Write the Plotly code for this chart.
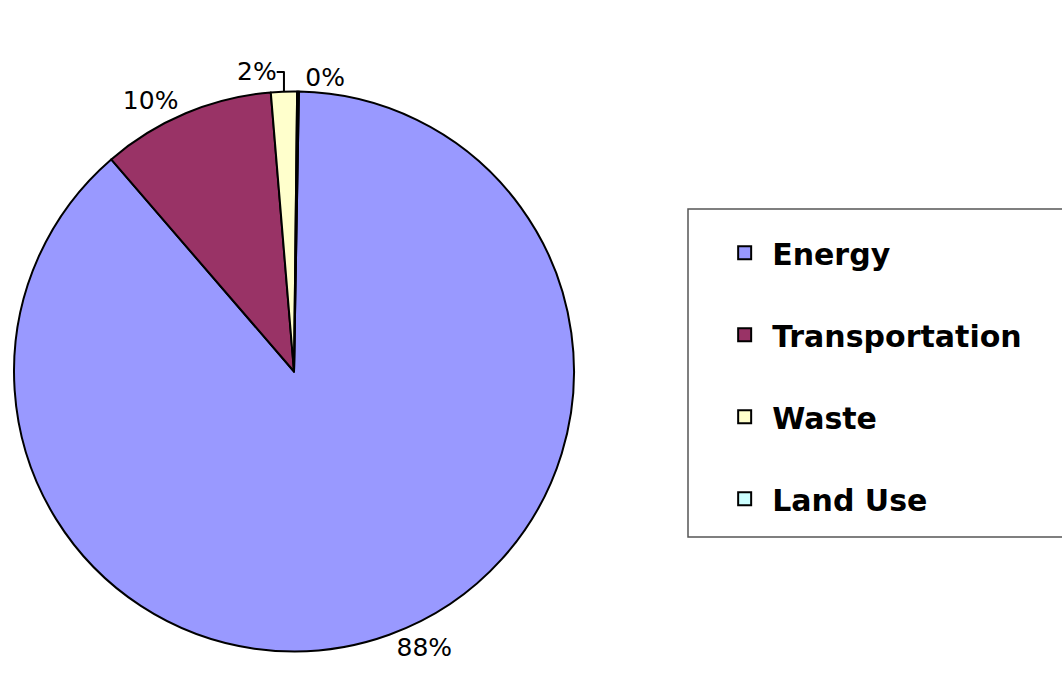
import plotly.graph_objects as go

categories = ["Energy", "Transportation", "Waste", "Land Use"]
values = [88.4, 10.0, 1.5, 0.1]
colors = ["#9999FF", "#993366", "#FFFFCC", "#CCFFFF"]

fig = go.Figure()
fig.add_trace(go.Pie(
    labels=categories, values=values, sort=False, direction="clockwise", rotation=1,
    marker=dict(colors=colors, line=dict(color="black", width=2)),
    textinfo="percent", texttemplate="%{percent:.0%}", textposition="outside",
    outsidetextfont=dict(family="DejaVu Sans", size=25, color="black"),
    showlegend=False, hoverinfo="label+percent",
    domain=dict(x=[0.0132, 0.5405], y=[0.0, 0.9154]),
))
for name, col in zip(categories, colors):
    fig.add_trace(go.Scatter(
        x=[None], y=[None], mode="markers", name=name, legendgroup=name,
        marker=dict(symbol="square", size=13, color=col, line=dict(color="black", width=2)),
    ))

fig.update_layout(
    width=1062, height=685, margin=dict(l=0, r=0, t=0, b=0, autoexpand=False),
    paper_bgcolor="white", plot_bgcolor="white",
    xaxis=dict(visible=False), yaxis=dict(visible=False),
    showlegend=True,
    legend=dict(x=0.68 - 5/1062, y=0.6688, xanchor="left", yanchor="top", tracegroupgap=40,
                itemwidth=45,
                font=dict(family="DejaVu Sans", size=30, color="black", weight="bold"),
                bgcolor="rgba(0,0,0,0)", borderwidth=0),
    shapes=[dict(type="rect", xref="paper", yref="paper", x0=688/1062, x1=1.01,
                 y0=1-537/685, y1=1-209/685, line=dict(color="#555555", width=1.5))],
)
fig.write_html("out.html", config={"displayModeBar": False})

with open("out.html", "r", encoding="utf-8") as f:
    html = f.read()
html = html.replace("<body>", "<body style=\"margin:0;overflow:hidden\">", 1)
with open("out.html", "w", encoding="utf-8") as f:
    f.write(html)
